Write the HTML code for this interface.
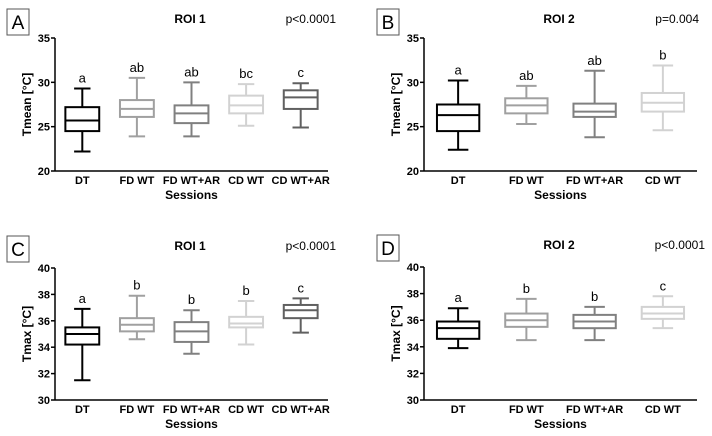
<!DOCTYPE html>
<html><head><meta charset="utf-8"><style>
body{margin:0;background:#fff;}
svg{display:block;font-family:"Liberation Sans",Arial,sans-serif;}
</style></head><body>
<svg id="fig" width="712" height="436" viewBox="0 0 712 436"></svg>
<script>
const categories5 = ["DT","FD WT","FD WT+AR","CD WT","CD WT+AR"];
const categories4 = ["DT","FD WT","FD WT+AR","CD WT"];
const colors = ["#000000","#a0a0a0","#808080","#d2d2d2","#606060"];
// [whiskerHigh, q3, median, q1, whiskerLow]
const panelA = [[29.3,27.2,25.7,24.5,22.2],[30.5,28,27,26.1,23.9],[30,27.4,26.5,25.4,23.9],[29.8,28.5,27.4,26.5,25.1],[29.9,29.1,28.3,27,24.9]];
const lettersA = ["a","ab","ab","bc","c"];
const panelB = [[30.2,27.5,26.3,24.5,22.4],[29.6,28.2,27.4,26.5,25.3],[31.3,27.6,26.7,26.1,23.8],[31.9,28.8,27.7,26.7,24.6]];
const lettersB = ["a","ab","ab","b"];
const panelC = [[36.9,35.5,35,34.2,31.5],[37.9,36.2,35.7,35.2,34.6],[36.8,35.9,35.2,34.4,33.5],[37.5,36.3,35.8,35.5,34.2],[37.7,37.2,36.8,36.2,35.1]];
const lettersC = ["a","b","b","b","c"];
const panelD = [[36.9,35.9,35.4,34.6,33.9],[37.6,36.5,36,35.5,34.5],[37,36.4,35.9,35.4,34.5],[37.8,37,36.5,36.1,35.4]];
const lettersD = ["a","b","b","c"];
const ticksTop = [20,25,30,35];
const ticksBot = [30,32,34,36,38,40];

const NS="http://www.w3.org/2000/svg";
const svg=document.getElementById('fig');
function el(tag,attrs,parent,text){const e=document.createElementNS(NS,tag);for(const k in attrs)e.setAttribute(k,attrs[k]);if(text!==undefined)e.textContent=text;(parent||svg).appendChild(e);return e;}

function panel(o){
  const g=el('g',{});
  
  
  const ymin=o.ticks[0], ymax=o.ticks[o.ticks.length-1];
  const y=v=>o.yBot-(v-ymin)/(ymax-ymin)*(o.yBot-o.yTop);
  const n=o.cats.length, step=(o.xEnd-o.x0)/n;
  const x=i=>o.x0+step*(i+0.5);
  // letter box
  const lb=el('g',{},g);
  
  
  el('rect',{x:o.lx,y:o.ly,width:22,height:26,fill:'#fff',stroke:'#555','stroke-width':1},lb);
  el('text',{x:o.lx+11,y:o.ly+20,'font-size':19,'text-anchor':'middle',fill:'#000'},lb,o.letter);
  const t=el('text',{x:o.tx,y:o.ly+14,'font-size':12,'font-weight':'bold','text-anchor':'middle'},g,o.title);
  
  const p=el('text',{x:o.px,y:o.ly+14,'font-size':12,'text-anchor':'end'},g,o.p);
  
  // axes
  const ya=el('line',{x1:o.x0,y1:o.yTop,x2:o.x0,y2:o.yBot,stroke:'#000','stroke-width':1.5},g);
  
  const xa=el('line',{x1:o.x0,y1:o.yBot,x2:o.xEnd,y2:o.yBot,stroke:'#000','stroke-width':1.5},g);
  
  o.ticks.forEach(v=>{
    el('line',{x1:o.x0-4,y1:y(v),x2:o.x0,y2:y(v),stroke:'#000','stroke-width':1.5},g);
    const tl=el('text',{x:o.x0-5,y:y(v)+4,'font-size':11,'font-weight':'bold','text-anchor':'end'},g,v);
    
  });
  const cy=(o.yTop+o.yBot)/2;
  const yt=el('text',{x:o.ax,y:cy,'font-size':12,'font-weight':'bold','text-anchor':'middle',transform:`rotate(-90 ${o.ax} ${cy})`},g,o.ylab);
  
  const xt=el('text',{x:(o.x0+o.xEnd)/2,y:o.yBot+28,'font-size':12,'font-weight':'bold','text-anchor':'middle'},g,'Sessions');
  
  const bw=step*0.62, cw=step*0.3;
  o.data.forEach((d,i)=>{
    const c=colors[i], cx=x(i);
    const b=el('g',{stroke:c,'stroke-width':2,fill:'none'},g);
    
    
    el('line',{x1:cx,y1:y(d[0]),x2:cx,y2:y(d[1])},b);
    el('line',{x1:cx,y1:y(d[3]),x2:cx,y2:y(d[4])},b);
    el('line',{x1:cx-cw/2,y1:y(d[0]),x2:cx+cw/2,y2:y(d[0])},b);
    el('line',{x1:cx-cw/2,y1:y(d[4]),x2:cx+cw/2,y2:y(d[4])},b);
    el('rect',{x:cx-bw/2,y:y(d[1]),width:bw,height:y(d[3])-y(d[1])},b);
    el('line',{x1:cx-bw/2,y1:y(d[2]),x2:cx+bw/2,y2:y(d[2])},b);
    const sl=el('text',{x:cx,y:y(d[0])-6,'font-size':13,'text-anchor':'middle'},g,o.letters[i]);
    
    const xl=el('text',{x:cx,y:o.yBot+13,'font-size':11,'font-weight':'bold','text-anchor':'middle'},g,o.cats[i]);
    
  });
}
panel({letter:'A',lx:7,ly:9,tx:190,px:336,title:'ROI 1',p:'p<0.0001',x0:55,xEnd:328,yTop:38,yBot:171,ticks:ticksTop,cats:categories5,data:panelA,letters:lettersA,ylab:'Tmean [°C]',ax:31});
panel({letter:'B',lx:377,ly:9,tx:559,px:699,title:'ROI 2',p:'p=0.004',x0:424,xEnd:697,yTop:38,yBot:171,ticks:ticksTop,cats:categories4,data:panelB,letters:lettersB,ylab:'Tmean [°C]',ax:400});
panel({letter:'C',lx:7,ly:236,tx:190,px:336,title:'ROI 1',p:'p<0.0001',x0:55,xEnd:328,yTop:268,yBot:400,ticks:ticksBot,cats:categories5,data:panelC,letters:lettersC,ylab:'Tmax [°C]',ax:31});
panel({letter:'D',lx:377,ly:235,tx:559,px:705,title:'ROI 2',p:'p<0.0001',x0:424,xEnd:697,yTop:267,yBot:400,ticks:ticksBot,cats:categories4,data:panelD,letters:lettersD,ylab:'Tmax [°C]',ax:400});
</script>
</body></html>
